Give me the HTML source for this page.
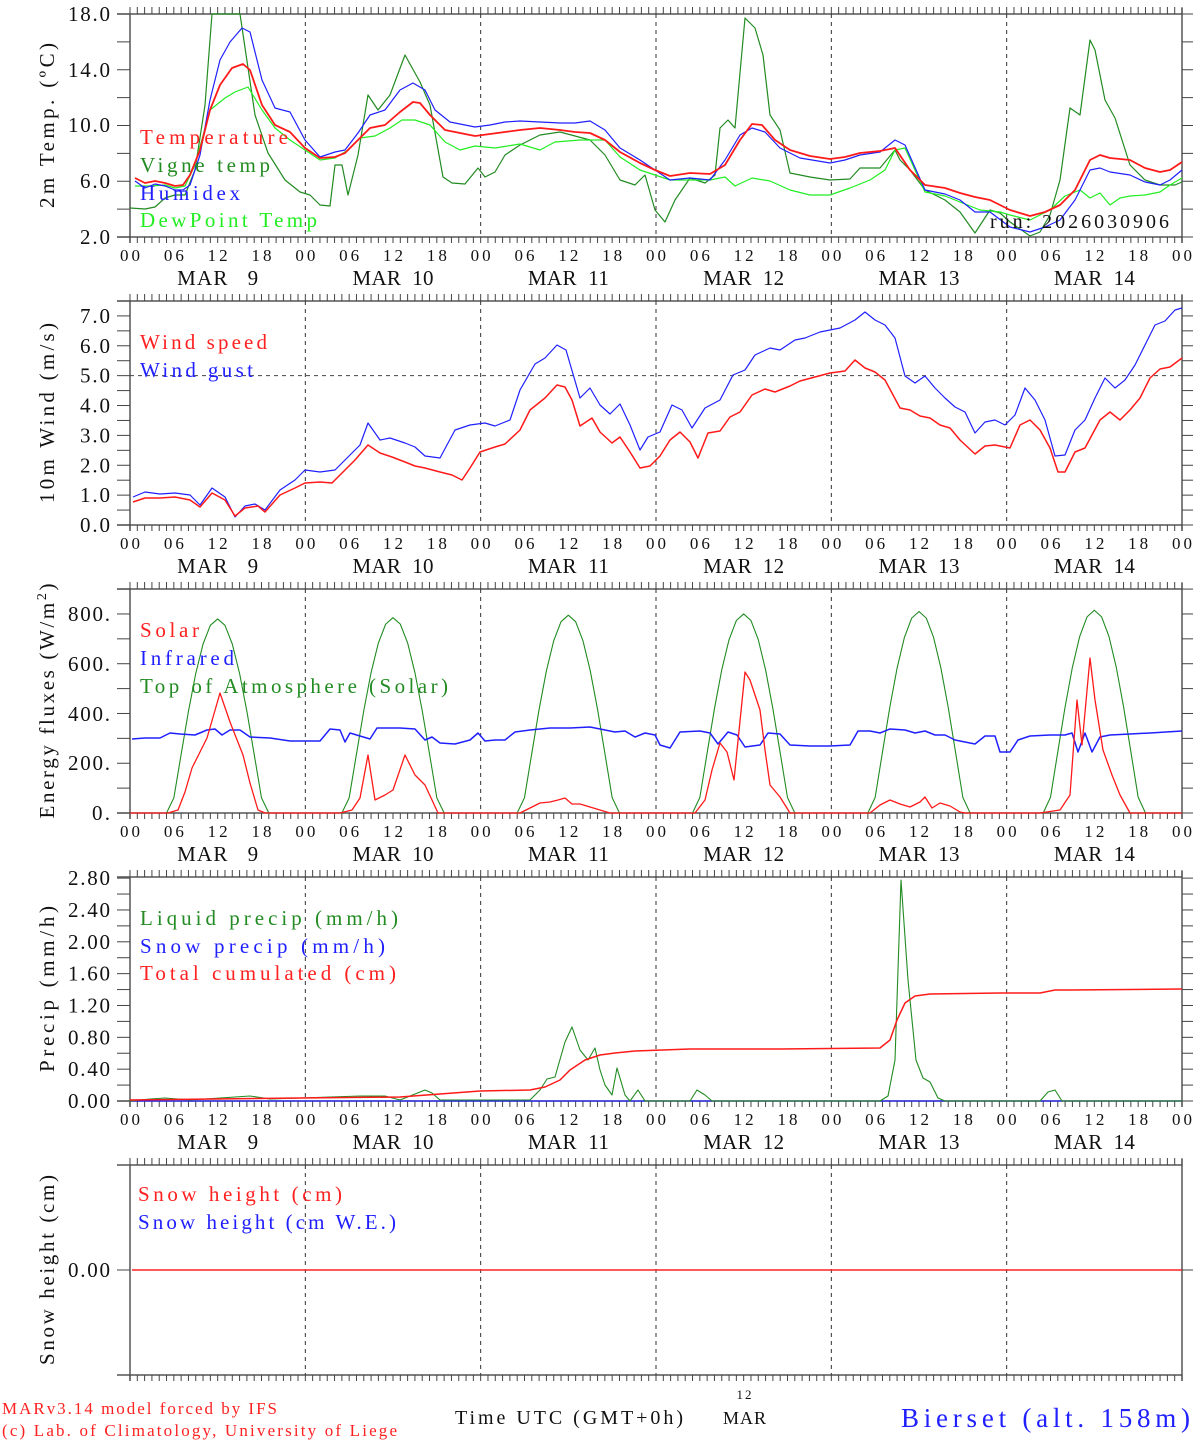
<!DOCTYPE html>
<html><head><meta charset="utf-8"><style>
html,body{margin:0;padding:0;background:#fff;}
svg{display:block;font-family:"Liberation Serif","DejaVu Serif",serif;}
</style></head><body>
<svg id="s" width="1194" height="1440" xmlns="http://www.w3.org/2000/svg"></svg>
<script>
var S=document.getElementById('s');var out='';
var X0=130,X1=1182,DAY=(X1-X0)/6,HR=DAY/24;
function line(a,b,c,d,col,w,dash){out+='<line x1="'+a+'" y1="'+b+'" x2="'+c+'" y2="'+d+'" stroke="'+col+'" stroke-width="'+(w||1)+'"'+(dash?' stroke-dasharray="'+dash+'"':'')+'/>';}
function txt(x,y,s,size,col,anchor,len,extra){out+='<text x="'+x+'" y="'+y+'" font-size="'+size+'" fill="'+col+'"'+(anchor?' text-anchor="'+anchor+'"':'')+(len?' textLength="'+len+'" lengthAdjust="spacing"':'')+(extra||'')+'>'+s+'</text>';}
function poly(p,col,w){var s='';for(var i=0;i<p.length;i++)s+=p[i][0]+','+p[i][1]+' ';out+='<polyline points="'+s+'" fill="none" stroke="'+col+'" stroke-width="'+(w||1)+'" stroke-linejoin="round"/>';}
function numW(s){var w=0;for(var i=0;i<s.length;i++)w+=(s[i]=='.')?6:12;return w;}
function panel(top,bot,ticks,labels,title,tlen,xlab){
 line(117,top,X1,top,'#555',1.5);line(117,bot,X1,bot,'#555',1.5);
 line(X0,top,X0,bot+6,'#555',1.5);line(X1,top-6,X1,bot+6,'#555',1.5);
 for(var h=0;h<=144;h++){var x=X0+h*HR;
  line(x,top-7,x,top,'#444',1);line(x,bot,x,bot+6,'#444',1);}
 for(var d=1;d<6;d++){var x=X0+d*DAY;line(x,top,x,bot,'#333',1,'4,4');}
 ticks.forEach(function(y){line(117,y,X0,y,'#444',1);line(X1,y,1193,y,'#444',1);});
 labels.forEach(function(l){txt(110,l[0]+7,l[1],21,'#111','end',numW(l[1]));});
 var cy=(top+bot)/2;
 out+='<text x="0" y="0" font-size="21" fill="#111" text-anchor="middle" textLength="'+tlen+'" lengthAdjust="spacing" transform="translate(54,'+cy+') rotate(-90)">'+title+'</text>';
 if(xlab){
  for(var h=0;h<=144;h+=6){var x=X0+h*HR;var v=['00','06','12','18'][(h/6)%4];txt(x,bot+24,v,17,'#111','middle',20);}
  for(var d=0;d<6;d++){var x=X0+d*DAY+DAY/2;txt(x,bot+48,'MAR&#160;&#160;'+(d+9<10?'&#160;':'')+(d+9),21,'#111','middle',81,' xml:space="preserve"');}
 }
}
function ticksOf(v0,v1,step,top,bot){var r=[];for(var v=v0;v<=v1+1e-9;v+=step){r.push(bot-(v-v0)/(v1-v0)*(bot-top));}return r;}
var t1=14,b1=237;
panel(t1,b1,ticksOf(2,18,2,t1,b1),[[237,'2.0'],[181,'6.0'],[125,'10.0'],[70,'14.0'],[14,'18.0']],'2m Temp. (ºC)',165,1);
var t2=301,b2=525;
var tk2=[];for(var v=0;v<=7.5;v+=0.5)tk2.push(b2-v*29.87);
var lb2=[];for(var v=0;v<=7;v++)lb2.push([b2-v*29.87,v+'.0']);
panel(t2,b2,tk2,lb2,'10m Wind (m/s)',180,1);
line(X0,b2-5*29.87,X1,b2-5*29.87,'#444',1,'4,4');
var t3=589,b3=813;
var tk3=[];for(var v=0;v<=900;v+=100)tk3.push(b3-v*0.2488);
panel(t3,b3,tk3,[[813,'0.'],[763,'200.'],[714,'400.'],[664,'600.'],[614,'800.']],'Energy fluxes (W/m<tspan font-size="14" dy="-8">2</tspan><tspan dy="8">)</tspan>',235,1);
var t4=877,b4=1101;
var tk4=[],lb4=[];for(var i=0;i<=14;i++){tk4.push(b4-i*0.2*79.6);}
var lbl=['0.00','0.40','0.80','1.20','1.60','2.00','2.40','2.80'];for(var i=0;i<8;i++)lb4.push([b4-i*0.4*79.6,lbl[i]]);
panel(t4,b4,tk4,lb4,'Precip (mm/h)',166,1);
var t5=1165,b5=1375;
panel(t5,b5,[1270],[[1270,'0.00']],'Snow height (cm)',190,0);

var temp=[[135,178],[145,183],[155,181],[165,183],[175,186],[183,185],[190,175],[200,150],[210,110],[220,85],[232,68],[243,64],[250,70],[262,105],[275,125],[290,132],[305,148],[320,158],[335,157],[345,153],[358,140],[370,128],[385,125],[400,112],[413,102],[420,103],[430,115],[445,130],[460,133],[475,136],[490,134],[505,132],[520,130],[540,128],[560,130],[575,132],[590,133],[605,140],[620,152],[640,163],[655,170],[670,176],[690,173],[710,174],[725,165],[740,140],[752,124],[762,125],[775,140],[790,150],[810,156],[830,159],[845,157],[860,153],[880,151],[895,148],[910,170],[925,185],[945,188],[960,193],[975,197],[990,200],[1010,210],[1030,216],[1045,212],[1060,205],[1075,190],[1090,160],[1100,155],[1110,158],[1130,160],[1145,168],[1160,172],[1170,170],[1182,162]];
var humi=[[135,181],[145,188],[155,184],[165,186],[175,190],[183,190],[190,185],[200,155],[210,100],[220,60],[230,42],[242,28],[250,32],[262,80],[275,108],[290,112],[305,140],[320,157],[335,152],[345,150],[358,133],[370,115],[385,110],[400,90],[413,83],[425,90],[435,110],[450,122],[475,127],[490,125],[505,122],[520,121],[540,122],[560,123],[575,123],[590,121],[605,130],[620,148],[640,160],[655,170],[670,180],[690,178],[710,180],[725,160],[740,135],[752,128],[765,132],[780,148],[800,158],[830,163],[845,160],[860,155],[880,152],[895,140],[905,145],[925,190],[945,194],[960,200],[975,212],[990,212],[1010,227],[1030,232],[1045,227],[1060,220],[1075,200],[1090,170],[1100,168],[1110,172],[1130,175],[1145,182],[1160,185],[1170,180],[1182,170]];
var vig=[[130,208],[145,209],[155,207],[165,198],[175,195],[185,195],[195,170],[205,105],[212,14],[240,14],[255,115],[268,153],[285,180],[300,192],[310,195],[320,205],[330,206],[335,165],[342,165],[348,195],[358,155],[368,95],[378,110],[390,95],[405,55],[420,82],[430,105],[443,177],[452,183],[465,184],[478,168],[485,177],[495,172],[505,155],[520,145],[540,135],[560,132],[575,136],[590,140],[605,155],[620,180],[635,185],[645,175],[655,210],[665,222],[675,200],[690,178],[705,183],[715,175],[720,128],[728,120],[735,128],[745,18],[755,28],[763,55],[770,115],[780,130],[790,173],[810,177],[830,180],[850,179],[860,168],[880,168],[895,150],[900,160],[910,170],[925,190],[945,200],[960,212],[975,233],[990,210],[1000,213],[1010,222],[1030,236],[1040,232],[1050,215],[1060,180],[1070,108],[1080,115],[1090,40],[1095,50],[1105,100],[1115,118],[1130,165],[1145,180],[1160,185],[1175,185],[1182,182]];
var dew=[[135,186],[150,186],[165,185],[175,188],[185,186],[195,165],[210,110],[225,98],[235,92],[248,87],[262,110],[275,128],[290,140],[305,150],[320,160],[335,158],[348,150],[360,138],[375,136],[390,128],[402,120],[415,120],[430,125],[445,142],[460,150],[475,146],[495,148],[520,144],[540,150],[555,142],[580,140],[605,140],[620,157],[640,170],[655,175],[670,180],[690,180],[710,180],[725,177],[735,186],[752,178],[770,181],[790,190],[810,195],[830,195],[850,188],[870,180],[885,170],[895,150],[905,148],[925,192],[945,196],[960,202],[980,210],[1000,212],[1010,215],[1030,220],[1050,210],[1065,196],[1080,190],[1090,198],[1100,193],[1110,205],[1120,198],[1130,196],[1145,195],[1160,192],[1170,185],[1182,178]];
poly(vig,'#228B22',1.2);poly(dew,'#22ee22',1.2);poly(humi,'#2020ff',1.2);poly(temp,'#ff1a1a',1.8);
txt(140,144,'Temperature',21,'#ff2020','',148);txt(140,172,'Vigne temp',21,'#228B22','',130);txt(140,200,'Humidex',21,'#2020ff','',100);txt(140,227,'DewPoint Temp',21,'#22ee22','',177);
txt(990,228,'run: 2026030906',20,'#111','',179);

var ws=[[133,502],[145,498],[160,498],[175,497],[190,500],[200,507],[212,493],[225,500],[235,516],[245,508],[258,506],[265,512],[280,495],[295,488],[305,483],[320,482],[332,483],[345,470],[355,460],[368,445],[380,453],[392,457],[405,462],[415,466],[425,468],[440,472],[452,475],[462,480],[470,468],[480,452],[495,447],[505,444],[520,430],[530,410],[545,398],[557,385],[565,387],[572,400],[580,426],[592,418],[600,432],[612,443],[620,437],[630,452],[640,468],[650,466],[660,456],[670,440],[680,432],[690,442],[698,458],[708,433],[720,431],[730,417],[740,412],[752,395],[765,389],[775,392],[790,386],[800,381],[815,377],[830,373],[845,371],[855,360],[865,368],[875,372],[885,380],[900,408],[910,410],[920,416],[930,418],[940,425],[950,428],[960,440],[975,454],[985,446],[995,445],[1010,448],[1020,425],[1030,420],[1040,430],[1050,448],[1058,472],[1065,472],[1075,452],[1085,448],[1100,420],[1110,412],[1120,420],[1130,410],[1140,398],[1150,378],[1160,369],[1170,367],[1182,358]];
var wg=[[133,497],[145,492],[160,494],[175,493],[190,495],[200,505],[212,488],[225,497],[235,517],[245,506],[255,504],[265,510],[280,490],[295,480],[305,470],[320,472],[335,470],[350,455],[360,445],[368,423],[380,440],[390,438],[405,443],[415,447],[425,456],[440,458],[455,430],[470,425],[485,423],[495,426],[510,420],[520,390],[535,364],[545,358],[557,345],[566,350],[580,398],[590,388],[600,405],[610,414],[620,404],[630,425],[640,450],[648,437],[660,432],[672,405],[682,410],[692,428],[705,408],[720,400],[733,375],[745,370],[755,355],[770,348],[780,350],[795,340],[805,338],[820,332],[840,328],[855,320],[865,312],[875,320],[885,325],[895,338],[905,376],[915,383],[925,376],[935,388],[945,398],[955,407],[965,412],[975,433],[985,422],[995,420],[1005,425],[1015,415],[1025,388],[1035,400],[1045,420],[1055,456],[1065,455],[1075,430],[1085,420],[1095,398],[1105,378],[1115,388],[1125,380],[1135,365],[1145,345],[1155,325],[1165,321],[1175,310],[1182,308]];
poly(wg,'#2020ff',1.2);poly(ws,'#ff1a1a',1.5);
txt(140,349,'Wind speed',21,'#ff2020','',127);txt(140,377,'Wind gust',21,'#2020ff','',113);

var peaks=[780,785,795,800,810,815];var toa=[];
for(var h=0;h<=144;h++){var d=Math.floor(h/24);if(d>5)d=5;var hh=h-d*24;var v=0;var a=(hh-12)/6.4;if(Math.abs(a)<1)v=peaks[d]*Math.pow(Math.cos(a*Math.PI/2),1.1);toa.push([X0+h*HR,b3-v*0.2488]);}
poly(toa,'#228B22',1.1);
var ir=[[132,739],[145,738],[160,738],[170,733],[180,734],[195,735],[207,730],[215,729],[222,735],[230,730],[240,730],[250,737],[270,738],[290,741],[305,741],[320,741],[330,729],[340,730],[345,742],[350,733],[360,736],[370,739],[377,728],[400,728],[415,729],[425,740],[432,737],[440,743],[455,744],[470,740],[478,733],[485,741],[495,740],[505,740],[515,732],[530,730],[550,728],[570,728],[590,727],[605,730],[615,732],[625,731],[635,737],[645,733],[655,735],[660,745],[670,748],[680,732],[700,731],[710,733],[718,744],[728,732],[737,735],[745,747],[760,745],[768,733],[780,734],[790,745],[810,746],[830,746],[850,745],[858,731],[870,731],[880,733],[890,729],[905,730],[915,733],[925,731],[935,735],[945,735],[955,740],[965,742],[975,744],[985,736],[995,736],[1000,752],[1010,752],[1018,740],[1030,736],[1050,735],[1065,735],[1072,733],[1078,752],[1085,733],[1092,752],[1100,737],[1110,735],[1130,734],[1150,733],[1182,731]];
poly(ir,'#2020ff',1.5);
var sol=[[130,813],[168,813],[178,810],[185,792],[192,768],[200,752],[207,738],[220,693],[230,722],[243,755],[250,783],[258,810],[265,813],[340,813],[352,810],[360,798],[368,755],[375,800],[385,795],[393,790],[405,755],[415,775],[425,785],[432,800],[438,813],[520,813],[530,808],[540,803],[550,802],[558,800],[565,798],[572,804],[580,804],[590,807],[600,810],[610,813],[695,813],[705,800],[712,770],[720,743],[727,752],[734,780],[745,672],[750,680],[760,710],[765,750],[770,785],[780,797],[790,813],[870,813],[880,805],[890,800],[900,804],[910,807],[920,802],[925,797],[932,808],[940,803],[950,806],[960,812],[965,813],[1040,813],[1060,810],[1070,795],[1077,700],[1082,745],[1090,658],[1095,700],[1103,750],[1112,775],[1120,795],[1130,813],[1182,813]];
poly(sol,'#ff1a1a',1.3);
txt(140,637,'Solar',21,'#ff2020','',59);txt(140,665,'Infrared',21,'#2020ff','',94);txt(140,693,'Top of Atmosphere (Solar)',21,'#228B22','',308);

poly([[130,1101],[1182,1101]],'#2020ff',1.2);
var liq=[[130,1101],[150,1099],[165,1098],[190,1100],[250,1096],[270,1099],[360,1096],[385,1096],[400,1100],[425,1090],[432,1093],[440,1100],[530,1100],[540,1090],[547,1079],[555,1077],[565,1042],[572,1027],[580,1050],[588,1060],[595,1048],[600,1070],[605,1085],[612,1095],[617,1068],[625,1095],[630,1101],[638,1090],[645,1101],[690,1101],[697,1090],[705,1095],[712,1101],[880,1101],[888,1096],[895,1060],[901,880],[908,980],[916,1060],[923,1078],[930,1082],[938,1098],[945,1101],[1040,1101],[1048,1092],[1055,1090],[1062,1101],[1182,1101]];
poly(liq,'#228B22',1.1);
var cum=[[130,1100],[300,1098],[400,1097],[480,1091],[530,1090],[545,1087],[560,1080],[570,1070],[585,1060],[600,1055],[615,1053],[635,1051],[690,1049],[780,1049],[880,1048],[890,1040],[897,1020],[905,1003],[915,996],[930,994],[1000,993],[1040,993],[1055,990],[1070,990],[1182,989]];
poly(cum,'#ff1a1a',1.5);
txt(140,925,'Liquid precip (mm/h)',21,'#228B22','',258);txt(140,953,'Snow precip (mm/h)',21,'#2020ff','',245);txt(140,980,'Total cumulated (cm)',21,'#ff2020','',256);

poly([[132,1270],[1182,1270]],'#ff2020',1.5);
txt(138,1201,'Snow height (cm)',21,'#ff2020','',204);txt(138,1229,'Snow height (cm W.E.)',21,'#2020ff','',258);

txt(2,1414,'MARv3.14 model forced by IFS',17,'#ff2020','',275);
txt(2,1436,'(c) Lab. of Climatology, University of Liege',17,'#ff2020','',395);
txt(455,1424,'Time UTC (GMT+0h)',20,'#111','',228);
txt(744,1399,'12',13,'#111','middle',15);
txt(723,1424,'MAR',18,'#111','',43);
txt(901,1427,'Bierset (alt. 158m)',27,'#2020ff','',289);
S.innerHTML=out;
</script>
</body></html>
